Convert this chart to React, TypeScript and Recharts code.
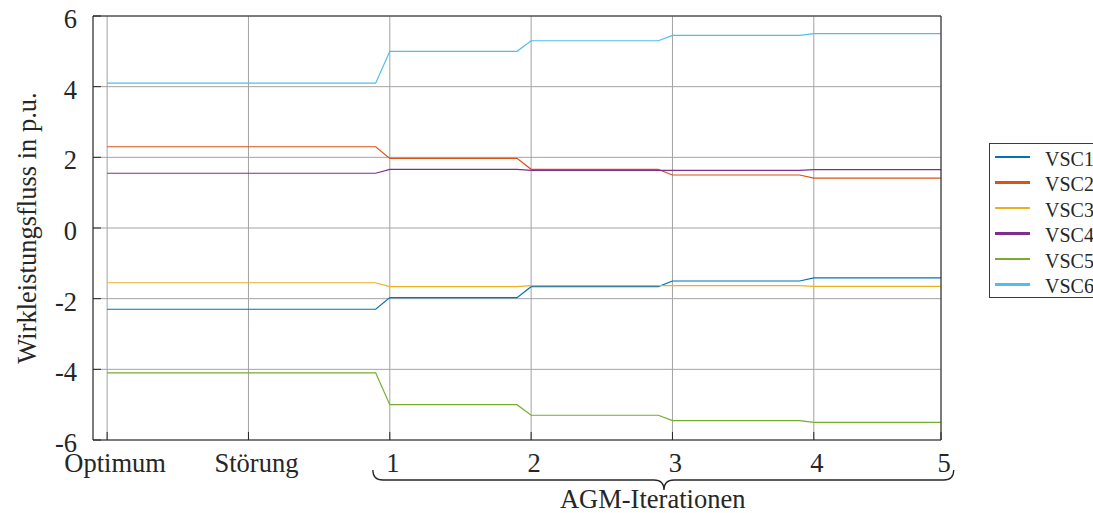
import { CartesianGrid, Legend, Line, LineChart, ReferenceLine, XAxis, YAxis } from 'recharts';

// time base: each stage is held, then ramps into the next one
const steps = [0, 1.9, 2, 2.9, 3, 3.9, 4, 4.9, 5, 5.9];

const vsc1 = [-2.3, -2.3, -1.97, -1.97, -1.66, -1.66, -1.5, -1.5, -1.41, -1.41];
const vsc2 = [2.3, 2.3, 1.97, 1.97, 1.66, 1.66, 1.5, 1.5, 1.41, 1.41];
const vsc3 = [-1.55, -1.55, -1.66, -1.66, -1.63, -1.63, -1.63, -1.63, -1.65, -1.65];
const vsc4 = [1.55, 1.55, 1.66, 1.66, 1.63, 1.63, 1.63, 1.63, 1.65, 1.65];
const vsc5 = [-4.1, -4.1, -5.0, -5.0, -5.3, -5.3, -5.45, -5.45, -5.5, -5.5];
const vsc6 = [4.1, 4.1, 5.0, 5.0, 5.3, 5.3, 5.45, 5.45, 5.5, 5.5];

const seriesNames = ['VSC1', 'VSC2', 'VSC3', 'VSC4', 'VSC5', 'VSC6'];
const seriesColors = ['#0072BD', '#D95319', '#EDB120', '#7E2F8E', '#77AC30', '#4DBEEE'];
const seriesValues = [vsc1, vsc2, vsc3, vsc4, vsc5, vsc6];

const xTickPositions = [0, 1, 2, 3, 4, 5, 5.9];
const xTickLabels = ['Optimum', 'Störung', '1', '2', '3', '4', '5'];
const yTicks = [-6, -4, -2, 0, 2, 4, 6];

// brace under the iteration ticks
const braceStart = 1.88;
const braceEnd = 5.99;
const braceTip = 3.94;
const braceLabelX = 3.86;

const data = steps.map((t, i) => {
  const row: Record<string, number> = { t };
  seriesNames.forEach((name, k) => {
    row[name] = seriesValues[k][i];
  });
  return row;
});

const FONT = '"Liberation Serif", "Times New Roman", serif';
const INK = '#262626';

function XTick({ x, y, payload }: any) {
  const label = xTickLabels[xTickPositions.indexOf(payload.value)];
  // word labels sit a bit right of their grid line
  const dx = /^\d+$/.test(label) ? 3 : 8;
  return (
    <text x={x + dx} y={y + 40} textAnchor="middle" fontFamily={FONT} fontSize={26.5} fill={INK}>
      {label}
    </text>
  );
}

function YTick({ x, y, payload }: any) {
  return (
    <text x={x - 24} y={y + 12} textAnchor="end" fontFamily={FONT} fontSize={26.5} fill={INK}>
      {payload.value}
    </text>
  );
}

function Brace(props: any) {
  const { x1, x2, y1 } = props;
  const toPx = (v: number) => x1 + ((x2 - x1) * (v - braceStart)) / (braceEnd - braceStart);
  const m = toPx(braceTip);
  const b = y1 + 40;
  const d = [
    `M${x1},${y1 + 30}`,
    `Q${x1},${b} ${x1 + 10},${b}`,
    `L${m - 10},${b}`,
    `Q${m},${b} ${m},${b + 10}`,
    `Q${m},${b} ${m + 10},${b}`,
    `L${x2 - 10},${b}`,
    `Q${x2},${b} ${x2},${y1 + 30}`,
  ].join(' ');
  return (
    <g>
      <path d={d} fill="none" stroke={INK} strokeWidth={1.3} />
      <text x={toPx(braceLabelX)} y={y1 + 68} textAnchor="middle" fontFamily={FONT} fontSize={26.5} fill={INK}>
        AGM-Iterationen
      </text>
    </g>
  );
}

function LegendBox({ payload }: any) {
  return (
    <div
      style={{
        border: '1px solid #3a3a3a',
        background: '#fff',
        width: 130,
        fontFamily: FONT,
        fontSize: 20,
        color: INK,
      }}
    >
      {(payload || []).map((p: any) => (
        <div key={p.value} style={{ display: 'flex', alignItems: 'center', height: 25.5 }}>
          <span style={{ display: 'inline-block', marginLeft: 5, width: 35, height: 2.5, background: p.color }} />
          <span style={{ marginLeft: 15, lineHeight: '20px', position: 'relative', top: 2 }}>{p.value}</span>
        </div>
      ))}
    </div>
  );
}

export default function App() {
  return (
    <div style={{ position: 'relative', width: 1093, height: 513, overflow: 'hidden', background: '#fff' }}>
      <style>{'body{margin:0}'}</style>
      <LineChart width={1093} height={513} data={data} margin={{ top: 16, right: 152, bottom: 73, left: 93 }}>
        <CartesianGrid stroke="#a3a3a3" strokeWidth={1} />
        <XAxis
          dataKey="t"
          type="number"
          domain={[-0.1, 5.9]}
          ticks={xTickPositions}
          interval={0}
          allowDataOverflow
          mirror
          tickSize={8}
          tickMargin={0}
          stroke={INK}
          tick={<XTick />}
        />
        <XAxis
          xAxisId="top"
          orientation="top"
          dataKey="t"
          type="number"
          domain={[-0.1, 5.9]}
          ticks={xTickPositions.slice(0, 6)}
          interval={0}
          allowDataOverflow
          mirror
          tickSize={8}
          stroke={INK}
          tick={false}
        />
        <YAxis
          type="number"
          domain={[-6, 6]}
          ticks={yTicks}
          interval={0}
          mirror
          tickSize={8}
          tickMargin={0}
          stroke={INK}
          tick={<YTick />}
        />
        <YAxis
          yAxisId="right"
          orientation="right"
          type="number"
          domain={[-6, 6]}
          ticks={yTicks}
          interval={0}
          mirror
          tickSize={8}
          stroke={INK}
          tick={false}
        />
        {seriesNames.map((name, k) => (
          <Line
            key={name}
            type="linear"
            dataKey={name}
            name={name}
            stroke={seriesColors[k]}
            strokeWidth={1.2}
            dot={false}
            activeDot={false}
            isAnimationActive={false}
          />
        ))}
        <ReferenceLine
          segment={[
            { x: braceStart, y: -6 },
            { x: braceEnd, y: -6 },
          ]}
          ifOverflow="visible"
          shape={Brace}
        />
        <Legend
          layout="vertical"
          align="center"
          verticalAlign="middle"
          content={<LegendBox />}
          wrapperStyle={{ position: 'absolute', left: 989, top: 143, width: 'auto', height: 'auto' }}
        />
      </LineChart>
      <div
        style={{
          position: 'absolute',
          left: 27,
          top: 228,
          transform: 'translate(-50%, -50%) rotate(-90deg)',
          whiteSpace: 'nowrap',
          fontFamily: FONT,
          fontSize: 26.5,
          color: INK,
        }}
      >
        Wirkleistungsfluss in p.u.
      </div>
    </div>
  );
}
